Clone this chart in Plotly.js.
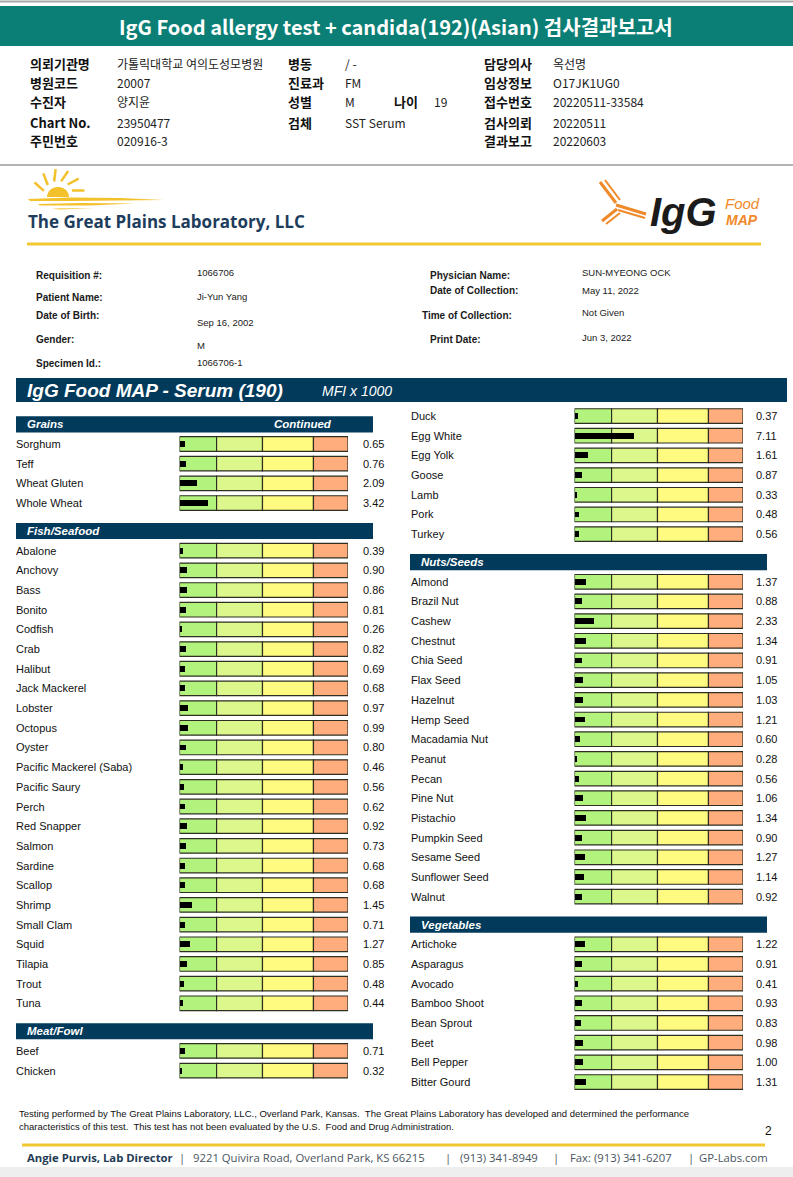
<!DOCTYPE html>
<html><head><meta charset="utf-8">
<script src="https://cdn.plot.ly/plotly-3.0.1.min.js"></script>
<style>html,body{margin:0;padding:0;background:#fff;}#chart{width:793px;height:1177px;}</style>
</head><body><div id="chart"></div>
<script>
// ---------- DATA ----------
const leftSections = ["Grains", "Fish/Seafood", "Meat/Fowl"];
const grainsItems = ["Sorghum", "Teff", "Wheat Gluten", "Whole Wheat"];
const grainsValues = [0.65, 0.76, 2.09, 3.42];
const fishItems = ["Abalone", "Anchovy", "Bass", "Bonito", "Codfish", "Crab", "Halibut", "Jack Mackerel", "Lobster", "Octopus", "Oyster", "Pacific Mackerel (Saba)", "Pacific Saury", "Perch", "Red Snapper", "Salmon", "Sardine", "Scallop", "Shrimp", "Small Clam", "Squid", "Tilapia", "Trout", "Tuna"];
const fishValues = [0.39, 0.90, 0.86, 0.81, 0.26, 0.82, 0.69, 0.68, 0.97, 0.99, 0.80, 0.46, 0.56, 0.62, 0.92, 0.73, 0.68, 0.68, 1.45, 0.71, 1.27, 0.85, 0.48, 0.44];
const meatItemsA = ["Beef", "Chicken"];
const meatValuesA = [0.71, 0.32];
const rightSections = ["", "Nuts/Seeds", "Vegetables"];
const meatItemsB = ["Duck", "Egg White", "Egg Yolk", "Goose", "Lamb", "Pork", "Turkey"];
const meatValuesB = [0.37, 7.11, 1.61, 0.87, 0.33, 0.48, 0.56];
const nutsItems = ["Almond", "Brazil Nut", "Cashew", "Chestnut", "Chia Seed", "Flax Seed", "Hazelnut", "Hemp Seed", "Macadamia Nut", "Peanut", "Pecan", "Pine Nut", "Pistachio", "Pumpkin Seed", "Sesame Seed", "Sunflower Seed", "Walnut"];
const nutsValues = [1.37, 0.88, 2.33, 1.34, 0.91, 1.05, 1.03, 1.21, 0.60, 0.28, 0.56, 1.06, 1.34, 0.90, 1.27, 1.14, 0.92];
const vegItems = ["Artichoke", "Asparagus", "Avocado", "Bamboo Shoot", "Bean Sprout", "Beet", "Bell Pepper", "Bitter Gourd"];
const vegValues = [1.22, 0.91, 0.41, 0.93, 0.83, 0.98, 1.00, 1.31];
const zoneEdges = [0, 4.4, 9.85, 15.9, 20];
const zoneColors = ["#b1f37c", "#dcf78b", "#fffb80", "#ffad7c"];

// ---------- GEOMETRY ----------
const W = 793, H = 1177;
const ROW = 19.68, ROW0 = 444;   // pixel of row position 0
const GAP = 2.42;
const P = x => x / W, Q = y => 1 - y / H;

function placeColumn(groups, start) {
  let pos = start; const out = [];
  groups.forEach((g, i) => {
    const ps = g.items.map((_, j) => pos + j);
    out.push({name: g.name, header: ps[0] - 1, pos: ps, items: g.items, values: g.values});
    pos = ps[ps.length - 1] + GAP;
  });
  return out;
}
const leftCol = placeColumn([
  {name: leftSections[0], items: grainsItems, values: grainsValues},
  {name: leftSections[1], items: fishItems, values: fishValues},
  {name: leftSections[2], items: meatItemsA, values: meatValuesA}], 0);
const rightCol = placeColumn([
  {name: rightSections[0], items: meatItemsB, values: meatValuesB},
  {name: rightSections[1], items: nutsItems, values: nutsValues},
  {name: rightSections[2], items: vegItems, values: vegValues}], -1.42);

const traces = [], annotations = [], shapes = [];
const FONT = "Liberation Sans, Arial, sans-serif";
const KFONT = "Noto Sans CJK KR, sans-serif";

function panel(col, xa, labelX, valueX, hdrX0, hdrX1) {
  const pos = [].concat(...col.map(s => s.pos));
  const vals = [].concat(...col.map(s => s.values));
  const items = [].concat(...col.map(s => s.items));
  zoneColors.forEach((c, k) => {
    traces.push({type: 'bar', orientation: 'h', xaxis: xa, yaxis: 'y', y: pos,
      x: pos.map(() => zoneEdges[k + 1] - zoneEdges[k]), base: pos.map(() => zoneEdges[k]),
      width: 0.74, marker: {color: c, line: {color: '#2e2e22', width: 1.2}}, hoverinfo: 'skip'});
  });
  traces.push({type: 'bar', orientation: 'h', xaxis: xa, yaxis: 'y', y: pos, x: vals, base: 0,
    width: 0.3, marker: {color: '#000', line: {width: 0}}, hoverinfo: 'skip'});
  items.forEach((t, i) => {
    annotations.push({xref: 'paper', yref: 'y', x: P(labelX), y: pos[i], text: t, showarrow: false,
      xanchor: 'left', yanchor: 'middle', font: {family: FONT, size: 11, color: '#111'}});
    annotations.push({xref: 'paper', yref: 'y', x: P(valueX), y: pos[i], text: vals[i].toFixed(2), showarrow: false,
      xanchor: 'left', yanchor: 'middle', font: {family: FONT, size: 11, color: '#111'}});
  });
  col.forEach((s, i) => {
    if (!s.name) return;
    shapes.push({type: 'rect', xref: 'paper', yref: 'y', x0: P(hdrX0), x1: P(hdrX1), y0: s.header - 0.41, y1: s.header + 0.41,
      fillcolor: '#013a5b', line: {width: 0}, layer: 'below'});
    annotations.push({xref: 'paper', yref: 'y', x: P(hdrX0 + 9), y: s.header, text: '<i><b>' + s.name + '</b></i>', showarrow: false,
      xanchor: 'left', yanchor: 'middle', font: {family: FONT, size: 11.5, color: '#fff'}});
  });
}
panel(leftCol, 'x', 14, 361, 16, 373);
panel(rightCol, 'x2', 409, 754, 410, 767);
annotations.push({xref: 'paper', yref: 'y', x: P(272), y: leftCol[0].header, text: '<i><b>Continued</b></i>', showarrow: false,
  xanchor: 'left', yanchor: 'middle', font: {family: FONT, size: 11.5, color: '#fff'}});

// ---------- PAGE DECORATION ----------
function txt(x, y, t, size, opts = {}) {
  annotations.push(Object.assign({xref: 'paper', yref: 'paper', x: P(x), y: Q(y), text: t, showarrow: false,
    xanchor: 'left', yanchor: 'middle', font: {family: opts.family || FONT, size: size, color: opts.color || '#111'}}, opts.extra || {}));
}
function rect(x0, y0, x1, y1, color, layer) {
  shapes.push({type: 'rect', xref: 'paper', yref: 'paper', x0: P(x0), x1: P(x1), y0: Q(y1), y1: Q(y0), fillcolor: color, line: {width: 0}, layer: layer || 'below'});
}
function line(x0, y0, x1, y1, color, w) {
  shapes.push({type: 'line', xref: 'paper', yref: 'paper', x0: P(x0), x1: P(x1), y0: Q(y0), y1: Q(y1), line: {color: color, width: w}});
}
function path(pts, fill, lineColor, lw) {
  const d = pts.map((p, i) => (i ? 'L' : 'M') + P(p[0]).toFixed(5) + ',' + Q(p[1]).toFixed(5)).join(' ') + (fill ? ' Z' : '');
  shapes.push({type: 'path', xref: 'paper', yref: 'paper', path: d, fillcolor: fill || 'rgba(0,0,0,0)', line: {color: lineColor || 'rgba(0,0,0,0)', width: lw || 0}});
}

// top gray line & teal band
line(0, 1.5, W, 1.5, '#a8a8a8', 2);
rect(0, 6, W, 46, '#0b7f75');
txt(396, 26.5, '<b>IgG Food allergy test + candida(192)(Asian) 검사결과보고서</b>', 20, {family: KFONT, color: '#fff', extra: {xanchor: 'center'}});

// Korean info block
const infoRows = [
  [64, ['의뢰기관명', '가톨릭대학교 여의도성모병원'], ['병동', '/ -'], ['담당의사', '옥선명']],
  [83, ['병원코드', '20007'], ['진료과', 'FM'], ['임상정보', 'O17JK1UG0']],
  [102, ['수진자', '양지윤'], ['성별', 'M'], ['접수번호', '20220511-33584']],
  [122, ['Chart No.', '23950477'], ['검체', 'SST Serum'], ['검사의뢰', '20220511']],
  [140, ['주민번호', '020916-3'], null, ['결과보고', '20220603']]];
const infoX = [[28, 115], [286, 343], [482, 551]];
infoRows.forEach(r => {
  for (let c = 0; c < 3; c++) {
    const cell = r[c + 1]; if (!cell) continue;
    txt(infoX[c][0], r[0], '<b>' + cell[0] + '</b>', 13, {family: KFONT, color: '#111'});
    txt(infoX[c][1], r[0], cell[1], 12, {family: KFONT, color: '#222'});
  }
});
txt(392, 102, '<b>나이</b>', 13, {family: KFONT});
txt(432, 102, '19', 12, {family: KFONT, color: '#222'});

// separator
line(0, 165, W, 165, '#9a9a9a', 1.5);

// sun logo
const sun = '#f3c12c';
const sunPts = [];
for (let i = 0; i <= 30; i++) { const a = Math.PI * i / 30; sunPts.push([58 + 11 * Math.cos(a), 197 - 10 * Math.sin(a)]); }
path(sunPts, sun);
[160, 133, 105, 78, 50, 22].forEach(deg => {
  const a = deg * Math.PI / 180, b = (deg - 10) * Math.PI / 180;
  path([[58 + 15 * Math.cos(a), 196 - 15 * Math.sin(a)], [58 + 27 * Math.cos(b), 196 - 27 * Math.sin(b)]], null, sun, 2.5);
});
path([[28, 199], [70, 197.5], [120, 198], [164, 200], [120, 200.5], [70, 201], [30, 201]], sun);
path([[38, 204], [80, 203], [135, 203.5], [90, 205.5], [40, 205.5]], sun);
path([[52, 208.5], [95, 208], [60, 209.5]], sun);
txt(26, 221, '<b>The Great Plains Laboratory, LLC</b>', 17, {family: 'Open Sans, sans-serif', color: '#1e3d5c'});

// IgG Food MAP logo
const org = '#f0892a';
path([[600, 182], [616, 203]], null, org, 3);
path([[605, 180], [620, 200]], null, org, 2);
path([[602, 221], [617, 209]], null, org, 3);
path([[606, 224], [620, 213]], null, org, 2);
path([[616, 205], [646, 214]], null, org, 3);
path([[618, 210], [645, 218]], null, org, 2);
txt(648, 212, '<b><i>IgG</i></b>', 40, {color: '#1b1b1b'});
txt(723, 204, '<i>Food</i>', 15, {color: org});
txt(724, 220, '<b><i>MAP</i></b>', 14, {color: org});
line(27, 244, 761, 244, '#f1c832', 3);

// patient info
const pLab = [['Requisition #:', 34, 275], ['Patient Name:', 34, 298], ['Date of Birth:', 34, 315], ['Gender:', 34, 339], ['Specimen Id.:', 34, 364],
  ['Physician Name:', 428, 275], ['Date of Collection:', 428, 291], ['Time of Collection:', 420, 315], ['Print Date:', 428, 339]];
const pVal = [['1066706', 195, 273], ['Ji-Yun Yang', 195, 297], ['Sep 16, 2002', 195, 322], ['M', 195, 345], ['1066706-1', 195, 362],
  ['SUN-MYEONG OCK', 580, 273], ['May 11, 2022', 580, 290], ['Not Given', 580, 313], ['Jun 3, 2022', 580, 337]];
pLab.forEach(a => txt(a[1], a[2], '<b>' + a[0] + '</b>', 10, {color: '#1a1a1a'}));
pVal.forEach(a => txt(a[1], a[2], a[0], 9.5, {color: '#1a1a1a'}));

// main title bar
rect(16, 378, 787, 402, '#013a5b');
txt(25, 390, '<b><i>IgG Food MAP - Serum (190)</i></b>', 19, {color: '#fff'});
txt(320, 391, '<i>MFI x 1000</i>', 14, {color: '#fff'});

// footer
txt(17, 1113, 'Testing performed by The Great Plains Laboratory, LLC., Overland Park, Kansas.  The Great Plains Laboratory has developed and determined the performance', 9.5, {color: '#111'});
txt(17, 1126, 'characteristics of this test.  This test has not been evaluated by the U.S.  Food and Drug Administration.', 9.5, {color: '#111'});
txt(763, 1131, '2', 12, {color: '#111'});
line(22, 1145, 765, 1145, '#f1c832', 3);
const footParts = [['<b>Angie Purvis, Lab Director</b>', 25, '#243b55'], ['|', 177, '#4a5560'], ['9221 Quivira Road, Overland Park, KS 66215', 191, '#4a5560'],
  ['|', 443, '#4a5560'], ['(913) 341-8949', 458, '#4a5560'], ['|', 551, '#4a5560'], ['Fax: (913) 341-6207', 568, '#4a5560'],
  ['|', 686, '#4a5560'], ['GP-Labs.com', 697, '#4a5560']];
footParts.forEach(f => txt(f[1], 1157, f[0], 11.3, {family: 'Open Sans, sans-serif', color: f[2]}));
rect(0, 1167, W, H, '#eeeeee');

const axisBase = {visible: false, showgrid: false, zeroline: false, fixedrange: true};
const layout = {
  width: W, height: H, margin: {l: 0, r: 0, t: 0, b: 0}, paper_bgcolor: '#fff', plot_bgcolor: 'rgba(0,0,0,0)',
  showlegend: false, barmode: 'overlay', bargap: 0,
  xaxis: Object.assign({}, axisBase, {domain: [P(179.5), P(348)], range: [0, 20], anchor: 'y'}),
  xaxis2: Object.assign({}, axisBase, {domain: [P(574.5), P(743)], range: [0, 20], anchor: 'y'}),
  yaxis: Object.assign({}, axisBase, {domain: [0, 1], range: [(H - ROW0) / ROW, -ROW0 / ROW]}),
  shapes: shapes, annotations: annotations
};
Plotly.newPlot('chart', traces, layout, {displayModeBar: false, staticPlot: true});
</script></body></html>
